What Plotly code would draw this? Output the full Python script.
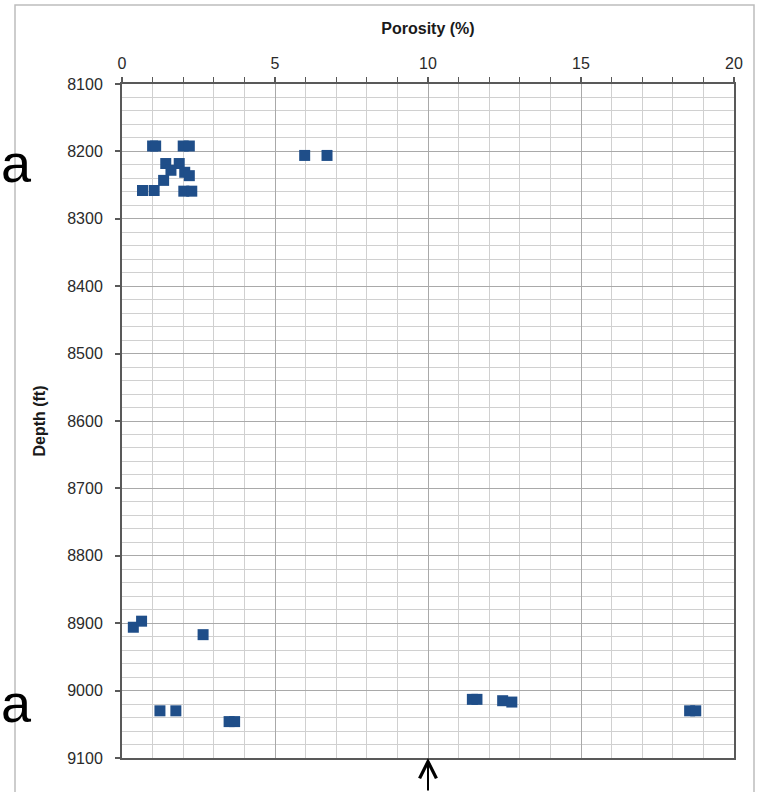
import plotly.graph_objects as go

# ---- data ----
porosity = [1.0, 1.1, 2.0, 2.2, 1.43, 1.87, 1.6, 2.05, 2.2, 1.36, 0.67, 1.05, 2.02, 2.28,
            5.97, 6.7,
            0.37, 0.64, 2.65,
            1.24, 1.76, 3.5, 3.68,
            11.45, 11.6, 12.44, 12.74,
            18.55, 18.75]
depth = [8192, 8192, 8192, 8192, 8218, 8218, 8228, 8231, 8236, 8243, 8258, 8258, 8259, 8259,
         8206, 8206,
         8906, 8897, 8917,
         9030, 9030, 9046, 9046,
         9013, 9013, 9015, 9017,
         9030, 9030]

x_title = "Porosity (%)"
y_title = "Depth (ft)"
side_letters = ["a", "a"]

W, H = 761, 792
ML, MR, MT, MB = 122, 27, 84, 34
PW, PH = W - ML - MR, H - MT - MB

FONT = "Liberation Sans Narrow, Arial Narrow, Liberation Sans, Arial, sans-serif"
BLUE = "#1f4e89"
AXIS = "#595959"

fig = go.Figure()
fig.add_trace(go.Scatter(
    x=porosity, y=depth, mode="markers",
    marker=dict(symbol="square", size=11, color=BLUE, line=dict(width=0)),
    showlegend=False, hoverinfo="x+y",
))

fig.update_layout(
    width=W, height=H,
    margin=dict(l=ML, r=MR, t=MT, b=MB, autoexpand=False),
    paper_bgcolor="white", plot_bgcolor="white",
    font=dict(family=FONT, size=16, color="#262626"),
    xaxis=dict(
        side="top", range=[0, 20], dtick=5, tick0=0,
        ticks="outside", ticklen=5, tickwidth=1.5, tickcolor=AXIS,
        showline=True, linecolor=AXIS, linewidth=2, mirror=True,
        showgrid=True, gridcolor="#a9a9a9", gridwidth=1.3, zeroline=False,
        minor=dict(dtick=1, ticks="outside", ticklen=5, tickwidth=1.2, tickcolor=AXIS,
                   showgrid=True, gridcolor="#d0d0d0", gridwidth=1.4),
        tickfont=dict(family=FONT, size=16, color="#2a2a2a"),
        ticklabelstandoff=2,
        title=dict(text=x_title, standoff=16,
                   font=dict(family=FONT, size=16, color="#1a1a1a", weight="bold")),
    ),
    yaxis=dict(
        range=[9100, 8100], dtick=100, tick0=8100,
        ticks="outside", ticklen=5, tickwidth=1.5, tickcolor=AXIS,
        showline=True, linecolor=AXIS, linewidth=2, mirror=True,
        showgrid=True, gridcolor="#a9a9a9", gridwidth=1.3, zeroline=False,
        minor=dict(dtick=20, ticks="", showgrid=True, gridcolor="#d0d0d0", gridwidth=1.4),
        tickfont=dict(family=FONT, size=16, color="#2a2a2a"),
        ticklabelstandoff=9,
        title=dict(text=y_title, standoff=18,
                   font=dict(family=FONT, size=16, color="#1a1a1a", weight="bold")),
    ),
)

# outer chart border (extends beyond the bottom of the picture)
fig.add_shape(type="rect", xref="paper", yref="paper",
              x0=(15 - ML) / PW, x1=(754 - ML) / PW,
              y0=-60 / PH, y1=(H - MB - 5) / PH,
              line=dict(color="#bdbdbd", width=1.5), fillcolor="rgba(0,0,0,0)", layer="below")

# large side letters at the left edge
for ypix, letter in zip([163, 703], side_letters):
    fig.add_annotation(text=letter, xref="paper", yref="paper",
                       x=-ML / PW, xanchor="left",
                       y=(H - MB - ypix) / PH, yanchor="middle",
                       showarrow=False, borderpad=0,
                       font=dict(family="Liberation Sans, Arial, sans-serif", size=54, color="black"))

# arrow pointing up at porosity 10 below the plot
fig.add_annotation(x=10, y=9100, xref="x", yref="y", text="",
                   showarrow=True, arrowhead=5, arrowwidth=2, arrowsize=1.65,
                   arrowcolor="black", ax=0, ay=45, standoff=0)

fig.write_html("out.html", config={"displayModeBar": False},
               post_script="document.body.style.margin='0';document.body.style.padding='0';")
